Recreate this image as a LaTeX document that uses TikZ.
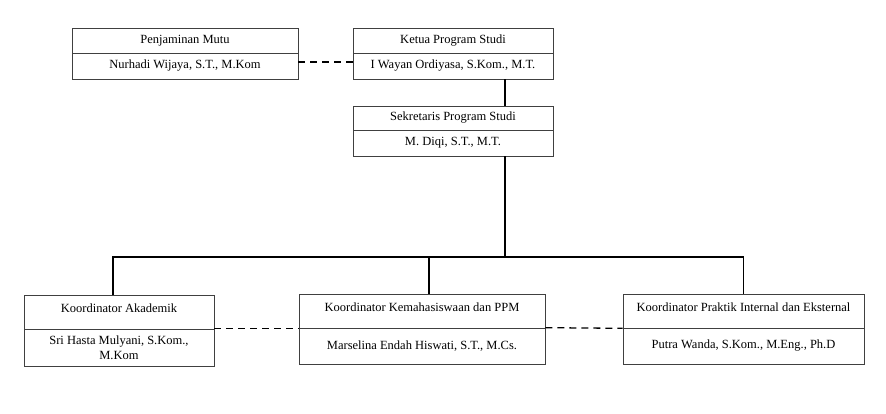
\documentclass[tikz,border=0pt]{standalone}
\usepackage{fontspec}
\setmainfont{Liberation Serif}

\begin{document}
\begin{tikzpicture}[x=1pt,y=1pt,
  part/.style={draw=black!75, line width=0.6pt, inner sep=0pt, align=center,
    font=\fontsize{12.5}{14.5}\selectfont},
  headpart/.style={part, text depth=8pt},
  link/.style={line width=1.3pt},
  dashlink/.style={line width=1.3pt, dash pattern=on 7pt off 5pt}]
\useasboundingbox (0,0) rectangle (886,413);

% top row
\node[part, minimum width=226pt, minimum height=25pt] (pmtitle) at(185,372.5){Penjaminan Mutu};
\node[part, minimum width=226pt, minimum height=26pt] (pmname) at(185,347){Nurhadi Wijaya, S.T., M.Kom};
\node[part, minimum width=200pt, minimum height=25pt] (kpstitle) at(453,372.5){Ketua Program Studi};
\node[part, minimum width=200pt, minimum height=26pt] (kpsname) at(453,347){I Wayan Ordiyasa, S.Kom., M.T.};

\node[part, minimum width=200pt, minimum height=24pt] (spstitle) at(453,295){Sekretaris Program Studi};
\node[part, minimum width=200pt, minimum height=26pt] (spsname) at(453,270){M. Diqi, S.T., M.T.};

% koordinator
\node[headpart, minimum width=190pt, minimum height=34pt] (katitle) at(119,101){Koordinator Akademik};
\node[part, minimum width=190pt, minimum height=37pt] (kaname) at(119,65.5){Sri Hasta Mulyani, S.Kom.,\\M.Kom};
\node[headpart, minimum width=246pt, minimum height=34pt] (kktitle) at(422,102){Koordinator Kemahasiswaan dan PPM};
\node[part, minimum width=246pt, minimum height=36pt] (kkname) at(422,67){Marselina Endah Hiswati, S.T., M.Cs.};
\node[headpart, minimum width=241pt, minimum height=34pt] (kptitle) at(743.5,102){Koordinator Praktik Internal dan Eksternal};
\node[part, minimum width=241pt, minimum height=36pt] (kpname) at(743.5,67){Putra Wanda, S.Kom., M.Eng., Ph.D};

\coordinate (bus) at(505,156);

\draw[link] (kpsname.south -| bus) -- (spstitle.north -| bus);
\draw[link] (spsname.south -| bus) -- (bus);
\draw[link] ([xshift=-6pt]katitle.north) |- (kptitle.north |- bus) -- (kptitle.north);
\draw[link] ([xshift=7pt]kktitle.north) -- ([xshift=7pt]kktitle.north |- bus);

\draw[dashlink] ([yshift=4pt]pmname.east) -- ([yshift=4pt]kpsname.west);
\draw[dashlink] (kaname.north east) -- (kaname.north east -| kkname.west);
\draw[dashlink] (kkname.north east) -- (kptitle.south west);

\end{tikzpicture}
\end{document}
